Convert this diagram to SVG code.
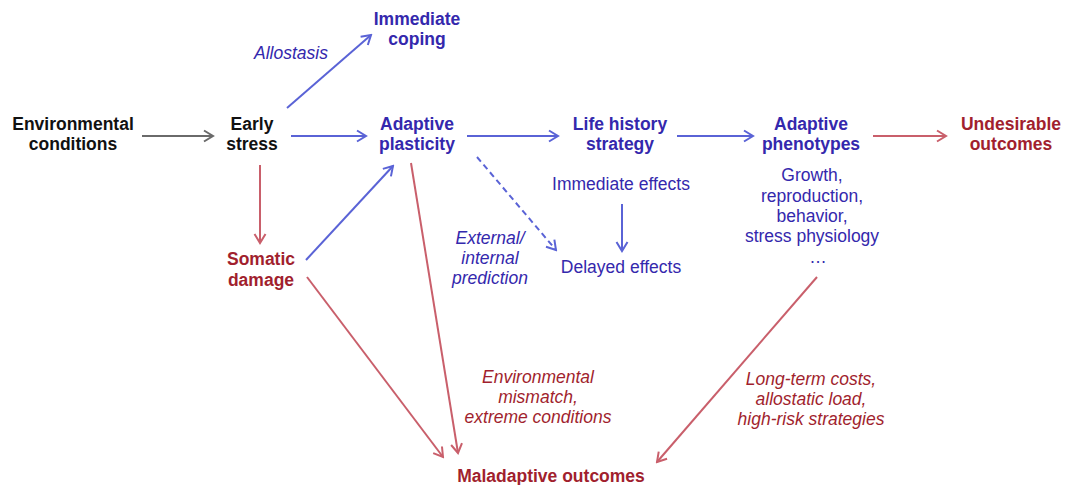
<svg xmlns="http://www.w3.org/2000/svg" width="1074" height="485" viewBox="0 0 1074 485">
  <style>
    text { font-family: "Liberation Sans", Arial, sans-serif; font-size: 17.5px; text-anchor: middle; }
    .b { font-weight: bold; }
    .i { font-style: italic; }
    .k { fill: #111111; }
    .blue { fill: #3428ad; }
    .red { fill: #a11f2e; }
    .ln { fill: none; stroke-width: 2; }
    .lb { stroke: #5a63d6; }
    .lr { stroke: #c95f6b; }
    .lg { stroke: #6a6a6a; }
    .dash { stroke-dasharray: 6 4; }
  </style>
  <defs>
    <marker id="hb" markerWidth="14" markerHeight="14" refX="0" refY="0" viewBox="-12 -7 14 14" orient="auto" markerUnits="userSpaceOnUse">
      <path d="M -9 -5.5 L 0 0 L -9 5.5" fill="none" stroke="#5a63d6" stroke-width="2"/>
    </marker>
    <marker id="hr" markerWidth="14" markerHeight="14" refX="0" refY="0" viewBox="-12 -7 14 14" orient="auto" markerUnits="userSpaceOnUse">
      <path d="M -9 -5.5 L 0 0 L -9 5.5" fill="none" stroke="#c95f6b" stroke-width="2"/>
    </marker>
    <marker id="hg" markerWidth="14" markerHeight="14" refX="0" refY="0" viewBox="-12 -7 14 14" orient="auto" markerUnits="userSpaceOnUse">
      <path d="M -9 -5.5 L 0 0 L -9 5.5" fill="none" stroke="#6a6a6a" stroke-width="2"/>
    </marker>
  </defs>
  <rect width="1074" height="485" fill="#ffffff"/>

  <g id="connectors">
    <line class="ln lg" x1="142" y1="136" x2="213" y2="136" marker-end="url(#hg)"/>
    <line class="ln lb" x1="291" y1="136" x2="366" y2="136" marker-end="url(#hb)"/>
    <line class="ln lb" x1="287" y1="108" x2="371" y2="35" marker-end="url(#hb)"/>
    <line class="ln lb" x1="467" y1="136" x2="558" y2="136" marker-end="url(#hb)"/>
    <line class="ln lb" x1="677" y1="136" x2="753" y2="136" marker-end="url(#hb)"/>
    <line class="ln lr" x1="873" y1="136" x2="946" y2="136" marker-end="url(#hr)"/>
    <line class="ln lr" x1="260" y1="165" x2="260" y2="243" marker-end="url(#hr)"/>
    <line class="ln lb" x1="306" y1="260" x2="393" y2="166" marker-end="url(#hb)"/>
    <line class="ln lr" x1="307" y1="277" x2="443" y2="457" marker-end="url(#hr)"/>
    <line class="ln lr" x1="411" y1="163" x2="458" y2="453" marker-end="url(#hr)"/>
    <line class="ln lb dash" x1="477" y1="157" x2="556" y2="250" marker-end="url(#hb)"/>
    <line class="ln lb" x1="622" y1="204" x2="622" y2="251" marker-end="url(#hb)"/>
    <line class="ln lr" x1="817" y1="277" x2="657" y2="462" marker-end="url(#hr)"/>
  </g>

  <g id="environmental-conditions">
    <text class="b k" x="73" y="130">Environmental</text>
    <text class="b k" x="73" y="150">conditions</text>
  </g>
  <g id="early-stress">
    <text class="b k" x="252" y="130">Early</text>
    <text class="b k" x="252" y="150">stress</text>
  </g>
  <g id="immediate-coping">
    <text class="b blue" x="417" y="25">Immediate</text>
    <text class="b blue" x="417" y="45">coping</text>
  </g>
  <g id="allostasis">
    <text class="i blue" x="291" y="59">Allostasis</text>
  </g>
  <g id="adaptive-plasticity">
    <text class="b blue" x="417" y="130">Adaptive</text>
    <text class="b blue" x="417" y="150">plasticity</text>
  </g>
  <g id="life-history-strategy">
    <text class="b blue" x="620" y="130">Life history</text>
    <text class="b blue" x="620" y="150">strategy</text>
  </g>
  <g id="adaptive-phenotypes">
    <text class="b blue" x="811" y="130">Adaptive</text>
    <text class="b blue" x="811" y="150">phenotypes</text>
  </g>
  <g id="undesirable-outcomes">
    <text class="b red" x="1011" y="130">Undesirable</text>
    <text class="b red" x="1011" y="150">outcomes</text>
  </g>
  <g id="immediate-effects">
    <text class="blue" x="621" y="190">Immediate effects</text>
  </g>
  <g id="delayed-effects">
    <text class="blue" x="621" y="273">Delayed effects</text>
  </g>
  <g id="phenotype-traits">
    <text class="blue" x="812" y="181">Growth,</text>
    <text class="blue" x="812" y="202">reproduction,</text>
    <text class="blue" x="812" y="222">behavior,</text>
    <text class="blue" x="812" y="242">stress physiology</text>
    <text class="blue" x="818" y="263">…</text>
  </g>
  <g id="somatic-damage">
    <text class="b red" x="261" y="265">Somatic</text>
    <text class="b red" x="261" y="286">damage</text>
  </g>
  <g id="prediction">
    <text class="i blue" x="490" y="244">External/</text>
    <text class="i blue" x="490" y="264">internal</text>
    <text class="i blue" x="490" y="284">prediction</text>
  </g>
  <g id="mismatch">
    <text class="i red" x="538" y="383">Environmental</text>
    <text class="i red" x="538" y="403">mismatch,</text>
    <text class="i red" x="538" y="423">extreme conditions</text>
  </g>
  <g id="long-term-costs">
    <text class="i red" x="811" y="385">Long-term costs,</text>
    <text class="i red" x="811" y="405">allostatic load,</text>
    <text class="i red" x="811" y="425">high-risk strategies</text>
  </g>
  <g id="maladaptive-outcomes">
    <text class="b red" x="551" y="482">Maladaptive outcomes</text>
  </g>
</svg>
